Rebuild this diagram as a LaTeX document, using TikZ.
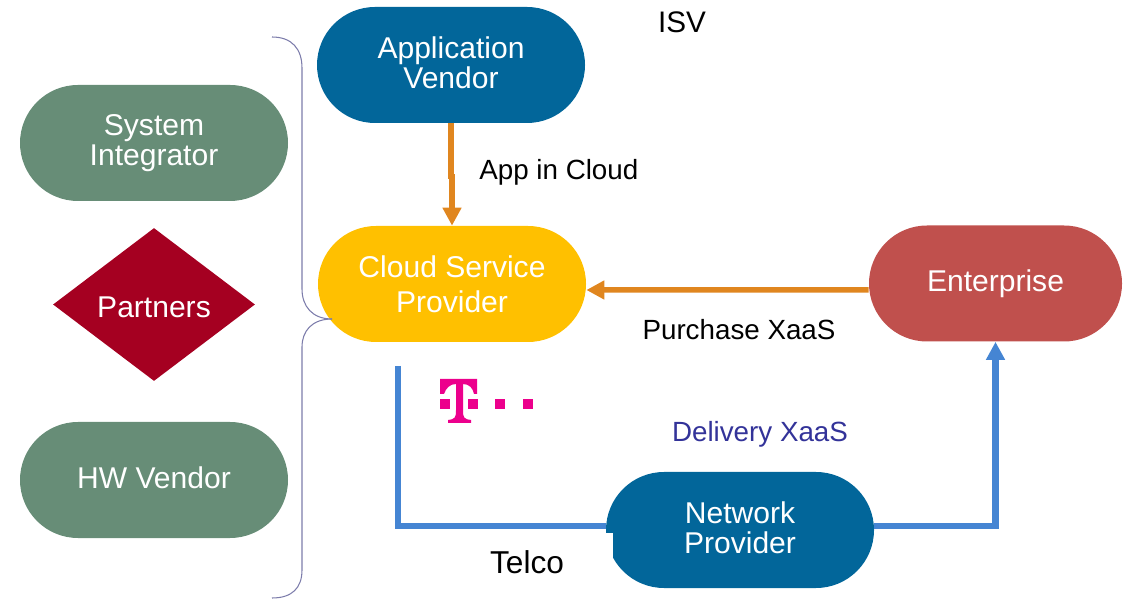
\documentclass[tikz,border=0pt]{standalone}
\usepackage{fontspec}
\setmainfont{Liberation Sans}
\usetikzlibrary{arrows.meta,shapes.geometric}
\definecolor{vendorblue}{HTML}{02669A}
\definecolor{partnergreen}{HTML}{678D77}
\definecolor{partnerred}{HTML}{A50021}
\definecolor{cloudyellow}{HTML}{FFC000}
\definecolor{enterprisered}{HTML}{C0504D}
\definecolor{flowrange}{HTML}{E0861F}
\definecolor{flowblue}{HTML}{4585D3}
\definecolor{bracepurple}{HTML}{7C7CAB}
\definecolor{deliveryblue}{HTML}{333399}
\definecolor{telekom}{HTML}{EC008C}
\tikzset{
	pill/.style={rectangle, rounded corners=1.16cm, minimum width=5.36cm, minimum height=2.32cm, inner sep=0pt, align=center, text=white, text depth=3pt, font=\fontsize{17.1}{17}\selectfont},
	caption/.style={inner sep=0pt, font=\fontsize{15.8}{18}\selectfont},
	flowtip/.style={-{Triangle[length=0.36cm,width=0.36cm]}},
	orangeflow/.style={draw=flowrange, line width=0.11cm, flowtip},
	blueflow/.style={draw=flowblue, line width=0.13cm}
}
\begin{document}
\begin{tikzpicture}
	\useasboundingbox (0,0) rectangle (22.58,11.98);

	% Connectors below the nodes
	\coordinate (telco start) at (7.96,4.66);
	\node[pill, fill=vendorblue] (network) at (14.8,1.38) {Network\\Provider};
	\node[pill, fill=enterprisered, minimum width=5.06cm] (enterprise) at (19.91,6.31) {Enterprise};
	\draw[blueflow] (telco start) |- ([yshift=0.08cm]network.west);
	\draw[blueflow, flowtip] ([yshift=0.08cm]network.east) -| (enterprise.south);

	% Notch in the lower left of the network box
	\fill[white] (12.1,0.5) rectangle (12.26,1.33);

	% Main boxes
	\node[pill, fill=vendorblue] (application) at (9.02,10.68) {Application\\Vendor};
	\node[pill, fill=cloudyellow, text depth=0pt, font=\fontsize{17.1}{20}\selectfont] (cloud) at (9.04,6.3) {Cloud Service\\Provider};
	\node[pill, fill=partnergreen] (integrator) at (3.08,9.12) {System\\Integrator};
	\node[pill, fill=partnergreen] (hardware) at (3.08,2.38) {HW Vendor};
	\node[diamond, fill=partnerred, text=white, inner sep=0pt, aspect=1.32, minimum width=4.04cm, minimum height=3.06cm, text height=15.5pt, font=\fontsize{17.1}{17}\selectfont] (partners) at (3.08,5.89) {Partners};

	% Orange arrows
	\draw[orangeflow] (application.south) -- ++(0,-1.06) -| (cloud.north);
	\draw[orangeflow] ([yshift=-0.13cm]enterprise.west) -- ([yshift=-0.12cm]cloud.east);

	% Brace around the partners
	\coordinate (brace tip) at (6.64,5.6);
	\draw[bracepurple, line width=0.6pt] (5.44,11.24) .. controls (5.84,11.24) and (6.04,11) .. (6.04,10.62) -- (6.04,6.2) .. controls (6.04,5.86) and (6.24,5.6) .. (brace tip);
	\draw[bracepurple, line width=0.6pt] (brace tip) .. controls (6.24,5.6) and (6.04,5.36) .. (6.04,5.04) -- (6.04,0.58) .. controls (6.04,0.22) and (5.84,0.02) .. (5.44,0.02);

	% Magenta logo
	\fill[telekom] (8.8,4.4) -- (9.54,4.4) -- (9.54,4.1) -- (9.48,4.1) .. controls (9.46,4.22) and (9.38,4.3) .. (9.26,4.3) -- (9.26,3.78) .. controls (9.26,3.62) and (9.28,3.6) .. (9.42,3.58) -- (9.42,3.52) -- (8.96,3.52) -- (8.96,3.58) .. controls (9.1,3.6) and (9.12,3.62) .. (9.12,3.78) -- (9.12,4.3) .. controls (9,4.3) and (8.92,4.22) .. (8.88,4.1) -- (8.8,4.1) -- cycle;
	\foreach \x in {8.8,9.36,9.9,10.46}
		\fill[telekom] (\x,3.8) rectangle ++(0.19,0.2);

	% Labels
	\node[caption, font=\fontsize{16.9}{18}\selectfont] (isv) at (13.64,11.54) {ISV};
	\node[caption, anchor=west] (app label) at (9.58,8.54) {App in Cloud};
	\node[caption] (purchase) at (14.78,5.38) {Purchase XaaS};
	\node[caption, text=deliveryblue] (delivery) at (15.2,3.3) {Delivery XaaS};
	\node[caption, font=\fontsize{18}{20}\selectfont] (telco) at (10.54,0.74) {Telco};
\end{tikzpicture}
\end{document}
